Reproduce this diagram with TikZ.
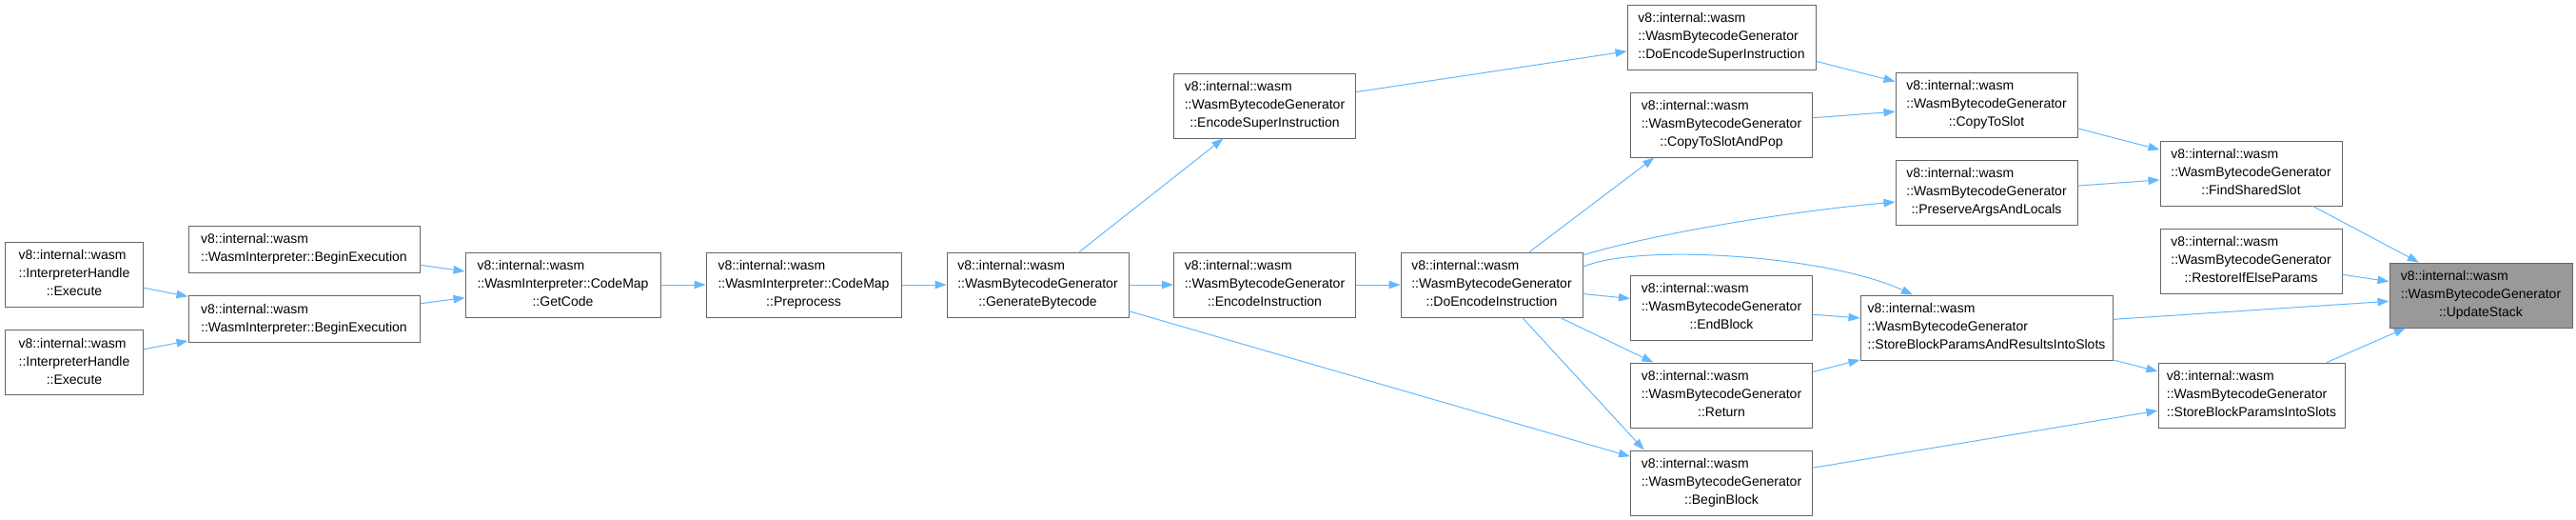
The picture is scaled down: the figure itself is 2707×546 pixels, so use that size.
\documentclass[tikz,border=0pt]{standalone}
\usepackage{fontspec}
\setmainfont{Liberation Sans}
\usetikzlibrary{arrows.meta}
\definecolor{edgeblue}{HTML}{63B8FF}
\definecolor{boxgray}{HTML}{666666}
\definecolor{rootgray}{HTML}{999999}
\newcommand{\calllbl}[2]{\begin{tabular}{@{}l@{}}#1\\\multicolumn{1}{@{}c@{}}{#2}\end{tabular}}

\begin{document}
\begin{tikzpicture}[
		x=1pt, y=-1pt,
		fn/.style={rectangle, draw=boxgray, line width=1pt, fill=white, inner xsep=5pt, inner ysep=5.5pt,
			minimum width=191pt, font=\fontsize{14pt}{19pt}\selectfont},
		call/.style={draw=edgeblue, line width=1pt, -{Triangle[length=12pt,width=8.5pt]}}
	]
	\useasboundingbox (0,0) rectangle (2707,546);
	\node[fn, minimum width=145pt] (exe1) at (78,288) {\calllbl{v8::internal::wasm\\::InterpreterHandle}{::Execute}};
	\node[fn, minimum width=145pt] (exe2) at (78,380.5) {\calllbl{v8::internal::wasm\\::InterpreterHandle}{::Execute}};
	\node[fn, minimum width=243pt] (bex1) at (319.5,261.5) {\calllbl{v8::internal::wasm}{::WasmInterpreter::BeginExecution}};
	\node[fn, minimum width=243pt] (bex2) at (319.5,335) {\calllbl{v8::internal::wasm}{::WasmInterpreter::BeginExecution}};
	\node[fn, minimum width=205pt] (getcode) at (591.5,299) {\calllbl{v8::internal::wasm\\::WasmInterpreter::CodeMap}{::GetCode}};
	\node[fn, minimum width=205pt] (preproc) at (844.5,299) {\calllbl{v8::internal::wasm\\::WasmInterpreter::CodeMap}{::Preprocess}};
	\node[fn] (genbc) at (1090.5,299) {\calllbl{v8::internal::wasm\\::WasmBytecodeGenerator}{::GenerateBytecode}};
	\node[fn] (encsup) at (1329,111) {\calllbl{v8::internal::wasm\\::WasmBytecodeGenerator}{::EncodeSuperInstruction}};
	\node[fn] (encins) at (1329,299) {\calllbl{v8::internal::wasm\\::WasmBytecodeGenerator}{::EncodeInstruction}};
	\node[fn] (doencins) at (1567.5,299) {\calllbl{v8::internal::wasm\\::WasmBytecodeGenerator}{::DoEncodeInstruction}};
	\node[fn, minimum width=198pt] (doencsup) at (1809,39) {\calllbl{v8::internal::wasm\\::WasmBytecodeGenerator}{::DoEncodeSuperInstruction}};
	\node[fn] (copypop) at (1809,131) {\calllbl{v8::internal::wasm\\::WasmBytecodeGenerator}{::CopyToSlotAndPop}};
	\node[fn] (endblock) at (1809,323) {\calllbl{v8::internal::wasm\\::WasmBytecodeGenerator}{::EndBlock}};
	\node[fn] (ret) at (1809,415) {\calllbl{v8::internal::wasm\\::WasmBytecodeGenerator}{::Return}};
	\node[fn] (beginblock) at (1809,507) {\calllbl{v8::internal::wasm\\::WasmBytecodeGenerator}{::BeginBlock}};
	\node[fn] (copyslot) at (2087.5,110) {\calllbl{v8::internal::wasm\\::WasmBytecodeGenerator}{::CopyToSlot}};
	\node[fn] (preserve) at (2087.5,202) {\calllbl{v8::internal::wasm\\::WasmBytecodeGenerator}{::PreserveArgsAndLocals}};
	\node[fn, minimum width=265pt] (sbpar) at (2087.5,344) {\calllbl{v8::internal::wasm\\::WasmBytecodeGenerator}{::StoreBlockParamsAndResultsIntoSlots}};
	\node[fn] (findshared) at (2365.5,182) {\calllbl{v8::internal::wasm\\::WasmBytecodeGenerator}{::FindSharedSlot}};
	\node[fn] (restore) at (2365.5,274) {\calllbl{v8::internal::wasm\\::WasmBytecodeGenerator}{::RestoreIfElseParams}};
	\node[fn, minimum width=196pt] (sbpis) at (2366,415) {\calllbl{v8::internal::wasm\\::WasmBytecodeGenerator}{::StoreBlockParamsIntoSlots}};
	\node[fn, minimum width=192pt, fill=rootgray] (update) at (2607,310) {\calllbl{v8::internal::wasm\\::WasmBytecodeGenerator}{::UpdateStack}};
	\draw[call] (exe1) -- (bex2);
	\draw[call] (exe2) -- (bex2);
	\draw[call] (bex1) -- (getcode);
	\draw[call] (bex2) -- (getcode);
	\draw[call] (getcode) -- (preproc);
	\draw[call] (preproc) -- (genbc);
	\draw[call] (genbc) -- (encsup);
	\draw[call] (genbc) -- (encins);
	\draw[call] (genbc) -- (beginblock);
	\draw[call] (encsup) -- (doencsup);
	\draw[call] (encins) -- (doencins);
	\draw[call] (doencins.41) -- (copypop.206);
	\draw[call] (doencins.18) .. controls (1740,245) and (1880,222) .. (preserve.186);
	\draw[call] (doencins.11) .. controls (1720,255) and (1920,268) .. (sbpar.156);
	\draw[call] (doencins) -- (endblock);
	\draw[call] (doencins) -- (ret);
	\draw[call] (doencins.313) -- (beginblock.157);
	\draw[call] (doencsup) -- (copyslot);
	\draw[call] (copypop) -- (copyslot);
	\draw[call] (endblock) -- (sbpar);
	\draw[call] (ret) -- (sbpar);
	\draw[call] (beginblock) -- (sbpis);
	\draw[call] (copyslot) -- (findshared);
	\draw[call] (preserve) -- (findshared);
	\draw[call] (sbpar) -- (sbpis);
	\draw[call] (sbpar) -- (update);
	\draw[call] (findshared) -- (update);
	\draw[call] (restore) -- (update);
	\draw[call] (sbpis) -- (update);
\end{tikzpicture}
\end{document}
